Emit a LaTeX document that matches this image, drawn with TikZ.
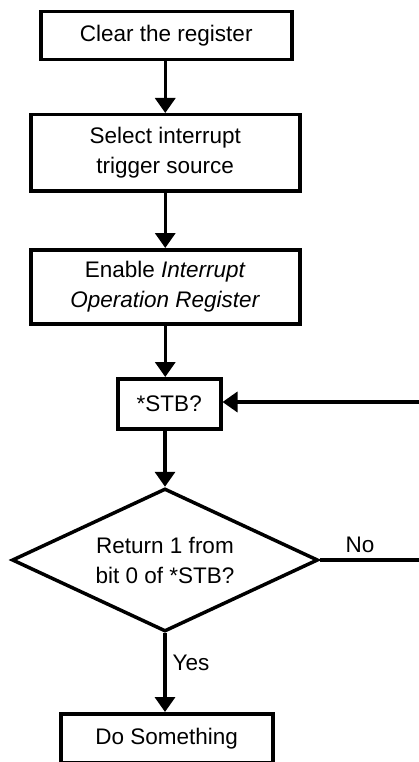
\documentclass[tikz,border=0pt]{standalone}
\usepackage{fontspec}
\setmainfont{Liberation Sans}
\usetikzlibrary{shapes.geometric,arrows.meta}
\begin{document}
\begin{tikzpicture}[x=1pt,y=-1pt,
  every node/.style={font=\fontsize{22.5}{30}\selectfont},
  procbox/.style={draw,line width=3.5pt,minimum width=#1,inner sep=0pt,anchor=north west,align=center},
  conn/.style={line width=3.5pt,-{Triangle[length=15pt,width=20pt]}},
  plain/.style={line width=3.5pt}]
\useasboundingbox (0,0) rectangle (419,762);
\node[procbox=251pt,minimum height=48pt] (clear) at (39,10) {Clear the register};
\node[procbox=269pt,minimum height=76pt] (select) at (29,113) {Select interrupt\\trigger source};
\node[procbox=269pt,minimum height=74pt] (enable) at (29,248) {Enable \textit{Interrupt}\\\textit{Operation Register}};
\node[procbox=103pt,minimum height=50pt] (stb) at (116,377) {*STB?};
\node[draw,line width=3.5pt,diamond,aspect=2.14,minimum width=306pt,minimum height=143pt,inner sep=0pt,align=center] (dec) at (165,560) {Return 1 from\\bit 0 of *STB?};
\node[procbox=212pt,minimum height=49pt] (do) at (59,712) {Do Something};
\coordinate (c1) at (421,560);
\coordinate (c2) at (421,402);
\draw[conn] (clear.south -| select.north) -- (select.north);
\draw[conn] (select) -- (enable);
\draw[conn] (enable.south) -- (stb.north -| enable.south);
\draw[conn] (stb.south -| dec.north) -- (dec.north);
\draw[conn] (dec.south) -- (do.north -| dec.south);
\draw[conn] (dec.east) -- (c1) -- (c2) -- (stb.east |- c2);
\node[anchor=center] (no) at (360,545) {No};
\node[anchor=center] (yes) at (191,663) {Yes};
\end{tikzpicture}
\end{document}
